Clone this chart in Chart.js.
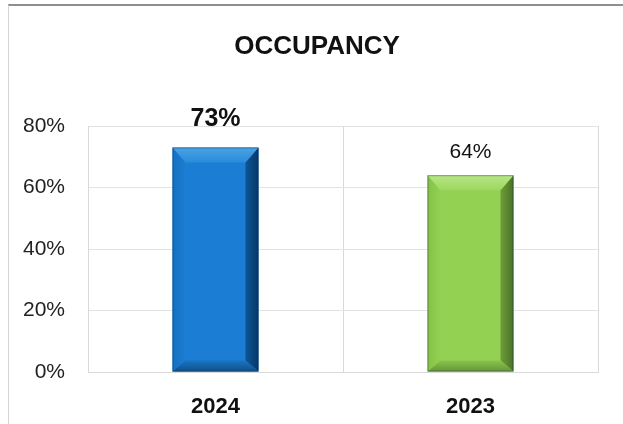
<!DOCTYPE html>
<html>
<head>
<meta charset="utf-8">
<script src="https://cdn.jsdelivr.net/npm/chart.js@4.4.1/dist/chart.umd.min.js"></script>
<style>
  html, body { margin: 0; padding: 0; background: #fff; overflow: hidden; }
  #frame {
    position: absolute; left: 8px; top: 4px; right: 0; bottom: 0;
    border-top: 2px solid #8f8f8f; border-left: 1px solid #d4d4d4;
  }
  #occChart { position: absolute; left: 0; top: 0; }
</style>
</head>
<body>
<div id="frame"></div>
<canvas id="occChart" width="623" height="424"></canvas>
<script>
// Occupancy by year
const years = ['2024', '2023'];
const occupancy = [73, 64];
const yTicks = [0, 20, 40, 60, 80];
const chartTitle = 'OCCUPANCY';

// bar colours: base, top bevel, left bevel, right bevel, bottom bevel
const palettes = [
    { base: '#1b7dd3', top: ['#4aa3e6', '#2a8bd9'], left: ['#1670c0', '#1b7dd3'], right: ['#0d5597', '#083866'], bottom: ['#1a74c4', '#105089'] },
    { base: '#93d152', top: ['#b7e683', '#9dd760'], left: ['#84c145', '#93d152'], right: ['#6d9e3a', '#4a7224'], bottom: ['#88c44a', '#66963a'] }
];
const labelFonts = ['bold 25px "Liberation Sans", Arial', '21px "Liberation Sans", Arial'];
const labelOffsets = [28, 23];

function grad(ctx, x0, y0, x1, y1, stops) {
    const g = ctx.createLinearGradient(x0, y0, x1, y1);
    g.addColorStop(0, stops[0]);
    g.addColorStop(1, stops[1]);
    return g;
}

function poly(ctx, pts, fill) {
    ctx.beginPath();
    ctx.moveTo(pts[0][0], pts[0][1]);
    for (let i = 1; i < pts.length; i++) ctx.lineTo(pts[i][0], pts[i][1]);
    ctx.closePath();
    ctx.fillStyle = fill;
    ctx.fill();
}

// title sits a little right of the canvas centre, over the whole frame
const titlePlugin = {
    id: 'frameTitle',
    afterDraw(chart) {
        const ctx = chart.ctx;
        ctx.save();
        ctx.fillStyle = '#111';
        ctx.font = 'bold 26px "Liberation Sans", Arial';
        ctx.textAlign = 'center';
        ctx.textBaseline = 'middle';
        ctx.fillText(chartTitle, 317, 47);
        ctx.restore();
    }
};

// bevelled look for the bars plus value labels above them
const bevelPlugin = {
    id: 'bevel',
    afterDatasetsDraw(chart) {
        const ctx = chart.ctx;
        const meta = chart.getDatasetMeta(0);
        meta.data.forEach((bar, i) => {
            const p = bar.getProps(['x', 'y', 'base', 'width'], true);
            const L = p.x - p.width / 2, R = p.x + p.width / 2;
            const T = p.y, B = p.base;
            const s = 13, t = 15, b = 11;
            const c = palettes[i];
            ctx.save();
            poly(ctx, [[L, T], [L + s, T + t], [L + s, B - b], [L, B]], grad(ctx, L, 0, L + s, 0, c.left));
            poly(ctx, [[R, T], [R, B], [R - s, B - b], [R - s, T + t]], grad(ctx, R - s, 0, R, 0, c.right));
            poly(ctx, [[L, B], [R, B], [R - s, B - b], [L + s, B - b]], grad(ctx, 0, B - b, 0, B, c.bottom));
            poly(ctx, [[L, T], [R, T], [R - s, T + t], [L + s, T + t]], grad(ctx, 0, T, 0, T + t, c.top));
            // thin dark outline on the edges
            ctx.strokeStyle = 'rgba(10,40,60,0.35)';
            ctx.lineWidth = 1;
            ctx.strokeRect(L + 0.5, T + 0.5, p.width - 1, B - T - 1);

            ctx.fillStyle = '#111';
            ctx.font = labelFonts[i];
            ctx.textAlign = 'center';
            ctx.textBaseline = 'middle';
            ctx.fillText(occupancy[i] + '%', p.x, T - labelOffsets[i]);
            ctx.restore();
        });
    }
};

const ctx = document.getElementById('occChart').getContext('2d');
const occChart = new Chart(ctx, {
    type: 'bar',
    data: {
        labels: years,
        datasets: [{
            data: occupancy,
            backgroundColor: palettes.map(p => p.base),
            borderWidth: 0,
            categoryPercentage: 1,
            barPercentage: 0.337
        }]
    },
    options: {
        responsive: false,
        animation: false,
        layout: { padding: { left: 0, right: 25, top: 126, bottom: 4 } },
        plugins: {
            legend: { display: false },
            tooltip: { enabled: false },
            title: { display: false }
        },
        scales: {
            x: {
                afterFit: scale => { scale.height = 48; },
                grid: { display: true, offset: true, color: '#d9d9d9', drawTicks: false },
                border: { display: true, color: '#d9d9d9' },
                ticks: {
                    color: '#111',
                    padding: 22,
                    font: { family: '"Liberation Sans", Arial', size: 22, weight: 'bold', lineHeight: 1.2 }
                }
            },
            y: {
                min: 0,
                max: 80,
                afterFit: scale => { scale.width = 88; },
                afterBuildTicks: scale => { scale.ticks = yTicks.map(v => ({ value: v })); },
                grid: { color: '#e3e3e3', drawTicks: false },
                border: { display: true, color: '#d9d9d9' },
                ticks: {
                    color: '#222',
                    padding: 23,
                    font: { family: '"Liberation Sans", Arial', size: 21 },
                    callback: v => v + '%'
                }
            }
        }
    },
    plugins: [bevelPlugin, titlePlugin]
});
</script>
</body>
</html>
